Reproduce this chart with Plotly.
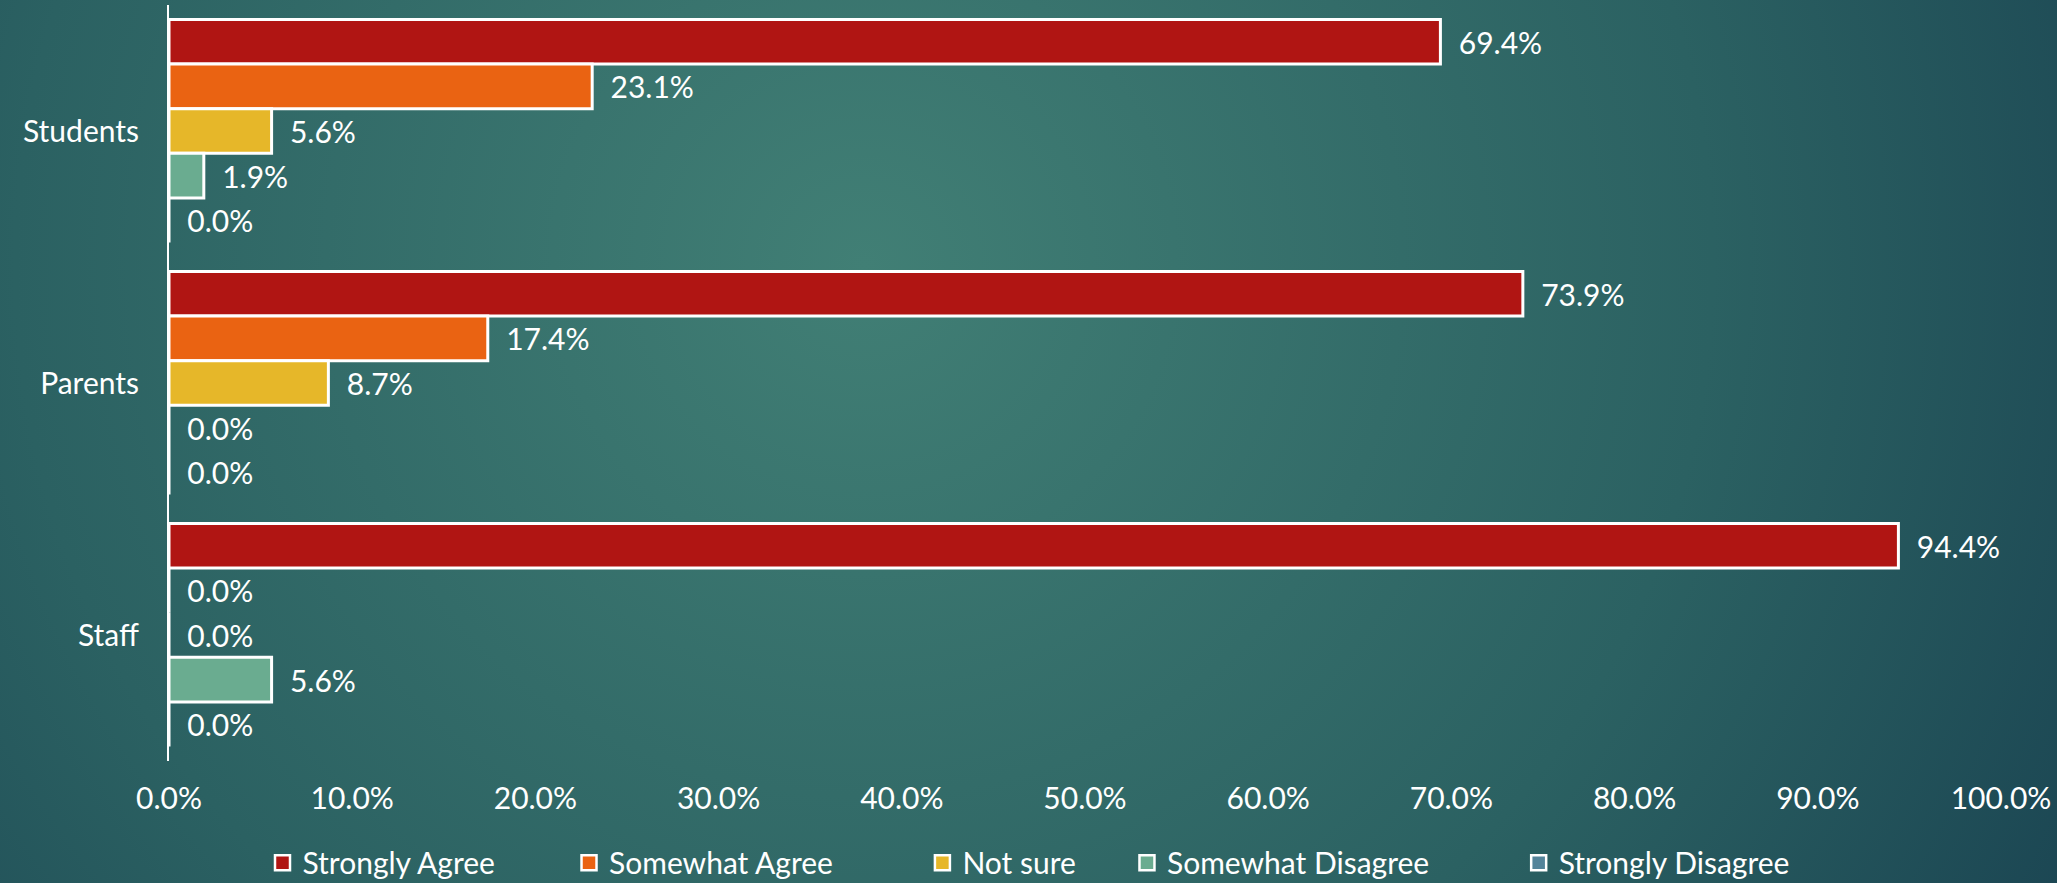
import base64
import plotly.graph_objects as go

groups = ["Students", "Parents", "Staff"]
responses = ["Strongly Agree", "Somewhat Agree", "Not sure", "Somewhat Disagree", "Strongly Disagree"]
strongly_agree = [69.4, 73.9, 94.4]
somewhat_agree = [23.1, 17.4, 0.0]
not_sure = [5.6, 8.7, 0.0]
somewhat_disagree = [1.9, 0.0, 5.6]
strongly_disagree = [0.0, 0.0, 0.0]
tick_vals = [0, 10, 20, 30, 40, 50, 60, 70, 80, 90, 100]

series = [strongly_agree, somewhat_agree, not_sure, somewhat_disagree, strongly_disagree]
colors = ["#B01513", "#EA6312", "#E6B729", "#6AAC90", "#54849A"]
# trailing non-breaking spaces widen the legend entries like the original font did
legend_pad = [9, 11, 6, 11, 0]

W, H = 2057, 883
ML, MR, MT, MB = 169, 56, 5, 122
FONT = "Lato"
FS = 30

# radial teal background, like the slide
svg = f"""<svg xmlns='http://www.w3.org/2000/svg' width='{W}' height='{H}' viewBox='0 0 {W} {H}' preserveAspectRatio='none'>
<defs><radialGradient id='g' cx='0.42' cy='0.3' r='0.75' gradientTransform='translate(0.42 0.3) scale(1 2.3) translate(-0.42 -0.3)'>
<stop offset='0' stop-color='#417f75'/><stop offset='0.55' stop-color='#2b6162'/><stop offset='1' stop-color='#163d4e'/>
</radialGradient></defs><rect width='100%' height='100%' fill='url(#g)'/></svg>"""
bg = "data:image/svg+xml;base64," + base64.b64encode(svg.encode()).decode()

fig = go.Figure()
for name, vals, col, pad in zip(responses, series, colors, legend_pad):
    fig.add_trace(go.Bar(
        y=groups, x=vals, name=name, orientation="h", showlegend=False,
        marker=dict(color=col, line=dict(color="white", width=3)),
        text=vals, texttemplate="\u00a0\u00a0%{x:.1f}%", textposition="outside",
        textfont=dict(color="white", size=FS, family=FONT),
        constraintext="none", cliponaxis=False,
    ))
    # bigger square swatches for the legend
    fig.add_trace(go.Scatter(
        x=[None], y=[None], mode="markers", name=name + "\u00a0" * pad,
        marker=dict(symbol="square", size=15, color=col, line=dict(color="white", width=2.5)),
    ))

pw = W - ML - MR
ph = H - MT - MB
fig.add_layout_image(dict(
    source=bg, xref="paper", yref="paper",
    x=-ML / pw, y=1 + MT / ph, sizex=W / pw, sizey=H / ph,
    xanchor="left", yanchor="top", sizing="stretch", layer="below",
))

fig.update_layout(
    width=W, height=H,
    margin=dict(l=ML, r=MR, t=MT, b=MB, autoexpand=False),
    paper_bgcolor="#2a5f62", plot_bgcolor="rgba(0,0,0,0)",
    barmode="group", bargap=0.115, bargroupgap=0,
    font=dict(family=FONT, color="white", size=FS),
    showlegend=True,
    legend=dict(orientation="h", xref="container", yref="container",
                x=0.5, xanchor="center", y=0.023, yanchor="middle",
                font=dict(size=FS, color="white"), traceorder="normal",
                itemwidth=30, itemsizing="trace",
                bgcolor="rgba(0,0,0,0)"),
)
fig.update_xaxes(range=[0, 100], tickvals=tick_vals,
                 ticktext=[f"{v:.1f}%" for v in tick_vals],
                 showgrid=False, zeroline=False, showline=False, automargin=False,
                 ticks="outside", ticklen=11, tickcolor="rgba(0,0,0,0)",
                 tickfont=dict(size=FS, color="white"))
fig.update_yaxes(autorange="reversed", showgrid=False, zeroline=False, automargin=False,
                 showline=True, linecolor="white", linewidth=2,
                 ticks="outside", ticklen=22, tickcolor="rgba(0,0,0,0)",
                 tickfont=dict(size=FS, color="white"))

# drop the default page margin so the figure fills the window
page_js = ("document.body.style.margin='0';"
           "document.body.style.overflow='hidden';"
           "document.body.style.background='#2a5f62';")
fig.write_html("out.html", post_script=page_js, config={"displayModeBar": False})
